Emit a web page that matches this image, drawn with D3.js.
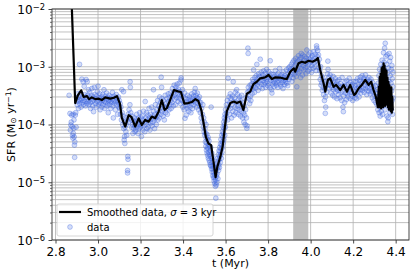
<!DOCTYPE html>
<html>
<head>
<meta charset="utf-8">
<script src="https://cdn.jsdelivr.net/npm/d3@7"></script>
<style>
  body { margin: 0; background: #fff; }
  text { font-family: "DejaVu Sans", sans-serif; }
</style>
</head>
<body>
<svg id="chart" width="415" height="273"></svg>
<script>
// ---- values ----
const xTicks = [2.8, 3.0, 3.2, 3.4, 3.6, 3.8, 4.0, 4.2, 4.4];
const yTicks = [1e-6, 1e-5, 1e-4, 1e-3, 1e-2];
const band = [3.918, 3.989];
const xLabel = "t (Myr)";
const legendLine = "Smoothed data, ";
const legendData = "data";

// smoothed SFR curve [t, SFR]
const smoothed = [
  [2.8755,1.5e-2],[2.8770,1.0e-2],[2.8926,2.35e-4],[2.905,3.2e-4],[2.921,3.9e-4],[2.932,3.0e-4],[2.948,3.1e-4],
  [2.958,2.75e-4],[2.971,2.95e-4],[2.987,2.75e-4],[3.003,2.8e-4],[3.018,2.65e-4],[3.034,2.95e-4],[3.057,2.8e-4],
  [3.075,2.9e-4],[3.089,3.1e-4],[3.103,2.3e-4],[3.112,1.3e-4],[3.128,9.2e-5],[3.144,1.45e-4],[3.157,1.35e-4],
  [3.175,9.2e-5],[3.191,1.28e-4],[3.206,9.8e-5],[3.222,1.2e-4],[3.238,1.12e-4],[3.253,1.37e-4],[3.269,1.28e-4],
  [3.285,1.67e-4],[3.300,2.65e-4],[3.313,1.78e-4],[3.324,1.93e-4],[3.339,2.65e-4],[3.357,3.95e-4],[3.376,3.75e-4],
  [3.390,3.65e-4],[3.406,2.3e-4],[3.423,2.35e-4],[3.441,2.45e-4],[3.458,2.75e-4],[3.472,2.55e-4],[3.486,1.78e-4],
  [3.498,9.8e-5],[3.507,6.1e-5],[3.519,4.7e-5],[3.532,4.4e-5],[3.544,2.15e-5],[3.553,1.23e-5],[3.561,1.84e-5],
  [3.575,2.75e-5],[3.586,4.1e-5],[3.595,8.0e-5],[3.606,1.7e-4],[3.622,2.35e-4],[3.639,2.5e-4],[3.653,2.35e-4],
  [3.669,2.5e-4],[3.684,1.78e-4],[3.700,3.4e-4],[3.716,3.7e-4],[3.731,5.0e-4],[3.747,5.5e-4],[3.763,6.3e-4],
  [3.786,6.55e-4],[3.802,7.2e-4],[3.818,6.15e-4],[3.833,6.55e-4],[3.855,6.5e-4],[3.874,6.25e-4],[3.888,6.15e-4],
  [3.904,8.2e-4],[3.921,9.4e-4],[3.927,8.2e-4],[3.943,1.15e-3],[3.959,1.22e-3],[3.974,1.17e-3],[3.990,1.27e-3],
  [4.009,1.22e-3],[4.025,1.31e-3],[4.034,1.42e-3],[4.045,8.8e-4],[4.061,5.2e-4],[4.069,3.7e-4],[4.081,5.9e-4],
  [4.092,6.3e-4],[4.108,4.5e-4],[4.120,4.85e-4],[4.139,3.95e-4],[4.155,4.85e-4],[4.171,3.7e-4],[4.186,4.85e-4],
  [4.204,3.25e-4],[4.210,3.35e-4],[4.226,4.25e-4],[4.241,4.85e-4],[4.257,5.9e-4],[4.273,4.85e-4],[4.285,5.5e-4],
  [4.296,3.95e-4],[4.307,3.0e-4],[4.316,2.0e-4],
  [4.3205,4.5e-4],[4.3228,2.0e-4],[4.3250,6.7e-4],[4.3273,2.6e-4],[4.3296,7.5e-4],[4.3318,1.9e-4],[4.3341,9.5e-4],
  [4.3364,2.3e-4],[4.3386,1.0e-3],[4.3409,2.0e-4],[4.3432,1.15e-3],[4.3455,2.4e-4],[4.3477,1.05e-3],[4.3500,2.1e-4],
  [4.3523,9.0e-4],[4.3545,2.5e-4],[4.3568,8.5e-4],[4.3591,2.2e-4],[4.3614,6.5e-4],[4.3636,2.0e-4],[4.3659,5.5e-4],
  [4.3682,1.8e-4],[4.3705,4.8e-4],[4.3727,2.0e-4],[4.3750,3.95e-4],[4.3773,1.7e-4],[4.3795,4.4e-4],[4.3818,1.6e-4],
  [4.3841,3.0e-4],[4.3864,1.75e-4]
];

// raw SFR samples [t, SFR]
const dataPoints = [
  [2.864,3.2e-4],[2.868,1.55e-4],[2.870,8.0e-5],[2.872,9.8e-5],[2.874,1.1e-4],[2.876,1.45e-4],[2.878,9.2e-5],
  [2.880,6.5e-5],[2.882,5.8e-5],[2.884,7.0e-5],[2.886,8.6e-5],[2.888,6.1e-5],[2.889,4.4e-5],[2.890,2.7e-5],
  [2.891,5.0e-5],[2.893,1.45e-4],[2.895,1.6e-4],[2.897,9.0e-5],[2.887,1.2e-4],[2.883,1.5e-4],
  [2.900,2.9e-4],[2.902,2.2e-4],[2.904,3.4e-4],[2.906,2.5e-4],[2.908,1.9e-4],[2.910,2.7e-4],[2.912,3.1e-4],
  [2.913,1.1e-3],[2.914,2.3e-4],[2.916,2.6e-4],[2.918,3.5e-4],[2.920,2.0e-4],[2.922,2.8e-4],[2.924,6.1e-4],
  [2.926,2.4e-4],[2.928,3.0e-4],[2.930,5.5e-4],[2.931,2.2e-4],[2.933,2.6e-4],[2.935,4.6e-4],[2.937,3.3e-4],
  [2.939,2.5e-4],[2.941,2.1e-4],[2.943,3.0e-4],[2.944,6.0e-4],[2.946,2.7e-4],[2.948,2.3e-4],[2.949,5.5e-4],
  [2.951,3.2e-4],[2.953,2.5e-4],[2.955,4.0e-4],
  [2.957,2.2e-4],[2.959,2.9e-4],[2.961,3.6e-4],[2.963,2.4e-4],[2.965,1.9e-4],[2.967,2.7e-4],[2.969,3.2e-4],
  [2.971,4.2e-4],[2.973,2.5e-4],[2.975,2.1e-4],[2.977,3.0e-4],[2.979,1.67e-4],[2.981,2.6e-4],[2.983,4.4e-4],
  [2.985,3.3e-4],[2.987,2.3e-4],[2.989,2.8e-4],[2.991,2.0e-4],[2.993,3.1e-4],[2.995,2.5e-4],[2.997,3.7e-4],
  [3.000,4.6e-4],[3.002,2.2e-4],[3.004,2.9e-4],[3.006,2.4e-4],[3.008,3.4e-4],[3.010,1.8e-4],[3.012,2.7e-4],
  [3.014,2.3e-4],[3.016,3.0e-4],[3.018,2.0e-4],[3.020,2.6e-4],[3.022,3.3e-4],[3.024,2.2e-4],[3.026,2.8e-4],
  [3.028,4.0e-4],[3.030,2.5e-4],[3.032,1.9e-4],[3.034,3.1e-4],[3.036,2.4e-4],[3.038,2.7e-4],[3.040,3.5e-4],
  [3.042,2.1e-4],[3.044,2.9e-4],[3.046,2.3e-4],[3.048,1.6e-4],[3.050,2.6e-4],[3.052,3.2e-4],[3.054,2.2e-4],
  [3.056,2.8e-4],[3.058,2.5e-4],[3.060,1.9e-4],[3.062,3.0e-4],[3.064,2.4e-4],[3.066,2.7e-4],[3.068,3.6e-4],
  [3.070,2.1e-4],[3.072,1.3e-4],[3.074,2.6e-4],[3.076,3.1e-4],[3.078,2.3e-4],[3.080,2.9e-4],[3.082,1.8e-4],
  [3.084,2.5e-4],[3.086,3.3e-4],[3.088,2.2e-4],[3.090,2.8e-4],[3.092,1.5e-4],[3.094,2.4e-4],[3.096,3.0e-4],
  [3.098,2.0e-4],[3.100,2.6e-4],
  [3.102,1.9e-4],[3.104,2.3e-4],[3.106,1.5e-4],[3.108,2.0e-4],[3.110,1.2e-4],[3.112,4.0e-4],[3.114,1.6e-4],
  [3.116,1.0e-4],[3.118,1.4e-4],[3.120,3.7e-4],[3.121,8.5e-5],[3.123,5.4e-5],[3.124,1.1e-4],[3.125,6.2e-5],
  [3.126,4.7e-5],[3.127,9.0e-5],[3.129,1.3e-4],[3.131,7.5e-5],[3.133,1.0e-4],[3.135,6.5e-5],[3.137,1.2e-4],
  [3.139,1.6e-5],[3.139,1.45e-5],[3.140,2.8e-5],[3.141,2.5e-5],[3.142,1.5e-4],[3.144,1.1e-4],[3.146,1.8e-4],
  [3.148,1.3e-4],[3.150,2.2e-4],[3.151,5.5e-4],[3.152,4.4e-4],[3.154,1.6e-4],[3.156,1.2e-4],[3.158,9.0e-5],
  [3.160,1.4e-4],[3.162,1.0e-4],[3.164,7.0e-5],[3.166,1.15e-4],[3.168,8.5e-5],[3.170,1.3e-4],[3.172,9.5e-5],
  [3.174,7.5e-5],[3.176,1.1e-4],[3.178,8.0e-5],[3.180,1.2e-4],[3.182,1.5e-4],[3.184,9.0e-5],[3.186,1.05e-4],
  [3.188,7.0e-5],[3.190,1.3e-4],[3.192,1.0e-4],[3.194,8.5e-5],[3.196,1.6e-4],[3.198,1.1e-4],[3.200,9.0e-5],
  [3.202,1.3e-4],[3.204,6.2e-5],[3.206,1.0e-4],[3.208,1.4e-4],[3.210,8.0e-5],[3.212,1.2e-4],[3.214,1.7e-4],
  [3.216,9.5e-5],[3.218,1.1e-4],[3.220,7.5e-5],[3.222,2.5e-4],[3.224,1.3e-4],[3.226,1.0e-4],[3.228,1.6e-4],
  [3.230,8.5e-5],[3.232,1.2e-4],[3.234,1.45e-4],[3.236,9.0e-5],[3.238,1.1e-4],[3.240,1.9e-4],[3.242,1.3e-4],
  [3.244,8.0e-5],[3.246,1.5e-4],[3.248,1.05e-4],[3.250,1.25e-4],[3.252,2.0e-4],[3.254,9.5e-5],[3.256,1.4e-4],
  [3.258,1.1e-4],[3.261,4.0e-4],[3.262,1.7e-4],[3.264,1.2e-4],[3.266,8.5e-5],[3.268,1.5e-4],[3.270,2.2e-4],
  [3.272,1.3e-4],[3.274,1.0e-4],[3.276,1.8e-4],[3.278,1.4e-4],[3.280,2.6e-4],[3.282,1.2e-4],[3.284,1.6e-4],
  [3.286,2.1e-4],[3.288,1.3e-4],[3.290,3.0e-4],[3.292,1.9e-4],[3.294,2.4e-4],[3.296,1.5e-4],[3.297,6.6e-4],
  [3.299,4.4e-4],[3.300,2.8e-4],[3.302,1.7e-4],[3.304,2.2e-4],[3.306,1.4e-4],[3.308,2.6e-4],[3.310,1.8e-4],
  [3.312,1.2e-4],[3.314,2.0e-4],[3.316,3.2e-4],[3.318,1.6e-4],[3.320,2.3e-4],[3.322,1.9e-4],[3.324,2.8e-4],
  [3.326,1.5e-4],[3.328,2.1e-4],[3.330,3.4e-4],[3.332,2.5e-4],[3.334,1.8e-4],[3.336,2.9e-4],[3.338,2.2e-4],
  [3.340,3.5e-4],[3.342,2.6e-4],[3.344,1.9e-4],[3.346,3.1e-4],
  [3.348,2.4e-4],[3.350,4.2e-4],[3.352,3.0e-4],[3.354,2.1e-4],[3.356,3.6e-4],[3.358,4.8e-4],[3.360,2.7e-4],
  [3.362,3.3e-4],[3.364,2.2e-4],[3.366,4.4e-4],[3.368,3.9e-4],[3.370,2.9e-4],[3.372,5.0e-4],[3.374,3.4e-4],
  [3.376,2.5e-4],[3.378,4.1e-4],[3.380,3.1e-4],[3.382,5.2e-4],[3.384,2.8e-4],[3.386,3.7e-4],[3.388,2.3e-4],
  [3.390,5.9e-4],[3.391,6.4e-4],[3.393,3.2e-4],[3.395,2.6e-4],[3.397,4.0e-4],[3.399,2.0e-4],[3.401,3.0e-4],
  [3.403,2.4e-4],[3.405,1.8e-4],[3.407,3.5e-4],[3.409,1.28e-4],[3.411,2.2e-4],[3.413,2.8e-4],[3.415,1.45e-4],
  [3.417,2.5e-4],[3.419,1.9e-4],[3.421,3.2e-4],[3.423,2.1e-4],[3.425,2.7e-4],[3.427,1.7e-4],[3.429,2.4e-4],
  [3.431,3.0e-4],[3.433,2.0e-4],[3.435,2.6e-4],[3.437,1.6e-4],[3.439,2.3e-4],[3.441,3.4e-4],[3.443,2.8e-4],
  [3.445,1.9e-4],[3.447,2.5e-4],[3.449,3.1e-4],[3.451,2.2e-4],[3.453,3.6e-4],[3.455,2.7e-4],[3.457,4.2e-4],
  [3.459,2.4e-4],[3.461,3.2e-4],[3.463,2.0e-4],[3.465,2.9e-4],[3.467,3.5e-4],[3.469,2.3e-4],[3.471,2.8e-4],
  [3.473,1.8e-4],[3.475,2.5e-4],[3.477,3.0e-4],[3.479,2.1e-4],[3.481,1.6e-4],[3.483,2.4e-4],[3.485,1.3e-4],
  [3.487,1.9e-4],[3.489,1.1e-4],[3.491,1.5e-4],[3.493,2.2e-4],[3.495,9.0e-5],[3.497,1.3e-4],[3.499,7.5e-5],
  [3.500,1.1e-4],[3.502,6.5e-5],[3.503,8.5e-5],[3.505,5.0e-5],[3.506,7.0e-5],[3.507,4.2e-5],[3.508,1.0e-4],
  [3.509,5.8e-5],[3.510,3.6e-5],[3.511,4.8e-5],[3.512,6.8e-5],[3.513,3.2e-5],[3.514,4.0e-5],[3.515,5.5e-5],
  [3.516,2.9e-5],[3.517,3.8e-5],[3.518,6.0e-5],[3.519,2.6e-5],[3.520,4.5e-5],[3.521,3.3e-5],[3.522,5.2e-5],
  [3.523,2.4e-5],[3.524,3.0e-5],[3.525,4.2e-5],[3.526,2.2e-5],[3.527,3.5e-5],[3.528,2.0e-5],[3.529,2.8e-5],
  [3.530,4.0e-5],[3.531,1.9e-5],[3.532,2.0e-4],[3.533,2.6e-5],[3.534,1.7e-5],[3.535,3.2e-5],[3.536,2.2e-5],
  [3.537,1.5e-5],[3.538,1.9e-5],[3.539,2.7e-5],[3.540,1.3e-5],[3.541,1.7e-5],[3.542,2.3e-5],[3.543,1.2e-5],
  [3.544,1.5e-5],[3.545,2.0e-5],[3.546,1.05e-5],[3.547,1.35e-5],[3.548,1.8e-5],[3.549,9.5e-6],[3.550,1.2e-5],
  [3.551,1.6e-5],[3.552,8.5e-6],[3.553,1.1e-5],[3.554,5.3e-6],[3.555,1.4e-5],[3.556,9.0e-6],[3.557,1.25e-5],
  [3.558,1.7e-5],[3.559,1.0e-5],[3.560,2.1e-5],[3.561,1.4e-5],[3.562,2.6e-5],[3.563,1.8e-5],[3.564,1.15e-5],
  [3.565,2.3e-5],[3.566,3.0e-5],[3.567,1.6e-5],[3.568,2.0e-5],[3.569,3.5e-5],[3.570,2.5e-5],[3.571,1.8e-5],
  [3.572,4.0e-5],[3.573,2.8e-5],[3.574,3.4e-5],[3.575,2.2e-5],[3.576,4.6e-5],[3.577,3.0e-5],[3.578,5.5e-5],
  [3.579,3.8e-5],[3.580,2.6e-5],[3.581,4.4e-5],[3.582,6.5e-5],[3.583,3.3e-5],[3.584,5.0e-5],[3.585,7.5e-5],
  [3.586,4.0e-5],[3.587,6.0e-5],[3.588,9.0e-5],[3.589,4.8e-5],[3.590,7.0e-5],[3.591,1.1e-4],[3.592,5.5e-5],
  [3.593,8.5e-5],[3.594,1.3e-4],[3.595,1.0e-4],[3.596,6.5e-5],[3.597,1.5e-4],[3.598,1.2e-4],[3.599,9.0e-5],
  [3.600,1.8e-4],[3.602,1.4e-4],[3.604,2.2e-4],[3.606,1.6e-4],[3.608,2.6e-4],[3.610,1.2e-4],[3.612,6.3e-4],
  [3.614,2.0e-4],[3.616,3.0e-4],[3.618,1.5e-4],[3.620,2.4e-4],[3.622,3.4e-4],[3.624,1.9e-4],[3.626,2.8e-4],
  [3.628,1.3e-4],[3.630,2.2e-4],[3.632,3.1e-4],[3.634,1.7e-4],[3.636,5.5e-4],[3.638,2.5e-4],[3.640,1.45e-4],
  [3.642,2.9e-4],[3.644,2.0e-4],[3.646,3.6e-4],[3.648,1.6e-4],[3.650,2.4e-4],[3.652,4.0e-4],[3.654,1.9e-4],
  [3.656,3.3e-4],[3.658,2.1e-4],[3.660,1.5e-4],[3.662,2.7e-4],[3.664,1.8e-4],[3.666,3.0e-4],[3.668,2.3e-4],
  [3.670,1.4e-4],[3.672,2.6e-4],[3.674,1.7e-4],[3.676,3.2e-4],[3.678,2.0e-4],[3.680,1.3e-4],[3.682,2.4e-4],
  [3.684,1.6e-4],[3.686,1.1e-4],[3.688,2.1e-4],[3.690,1.45e-4],[3.692,1.0e-4],[3.694,1.8e-4],[3.696,2.9e-4],
  [3.698,1.3e-4],[3.700,8.6e-5],[3.701,9.5e-5],[3.703,3.6e-4],[3.705,2.1e-3],[3.706,1.7e-3],[3.707,4.4e-4],
  [3.709,2.8e-4],[3.711,3.8e-4],[3.713,2.3e-4],[3.715,4.8e-4],[3.717,3.1e-4],[3.719,2.6e-4],[3.721,4.2e-4],
  [3.723,5.0e-4],[3.725,3.4e-4],[3.727,6.0e-4],[3.729,4.1e-4],[3.731,5.5e-4],[3.732,8.8e-4],[3.734,4.6e-4],
  [3.736,3.6e-4],[3.738,6.5e-4],[3.740,5.2e-4],[3.742,4.3e-4],[3.744,7.0e-4],[3.746,5.6e-4],[3.747,1.1e-3],
  [3.749,4.8e-4],[3.751,6.2e-4],[3.753,3.9e-4],[3.755,7.6e-4],[3.757,5.4e-4],[3.759,6.8e-4],[3.761,4.5e-4],
  [3.763,1.35e-3],[3.765,5.9e-4],[3.767,8.0e-4],[3.769,5.0e-4],[3.771,6.6e-4],[3.773,4.2e-4],[3.775,7.2e-4],
  [3.777,5.7e-4],[3.779,8.5e-4],[3.781,4.9e-4],[3.783,6.3e-4],[3.785,5.3e-4],[3.787,7.8e-4],[3.789,4.4e-4],
  [3.791,6.0e-4],[3.793,9.0e-4],[3.795,5.5e-4],[3.797,7.0e-4],[3.799,4.7e-4],[3.801,6.4e-4],[3.803,8.2e-4],
  [3.805,5.1e-4],[3.807,6.9e-4],[3.809,4.3e-4],[3.810,1.27e-3],[3.812,5.8e-4],[3.814,7.5e-4],[3.816,4.0e-4],
  [3.818,3.5e-4],[3.820,6.2e-4],[3.822,5.0e-4],[3.824,7.3e-4],[3.826,5.6e-4],[3.828,4.5e-4],[3.830,6.8e-4],
  [3.832,5.2e-4],[3.834,8.6e-4],[3.836,6.0e-4],[3.838,4.8e-4],[3.840,7.1e-4],[3.842,5.4e-4],[3.844,6.5e-4],
  [3.846,4.4e-4],[3.848,7.7e-4],[3.850,5.7e-4],[3.852,6.3e-4],[3.854,9.3e-4],[3.856,5.0e-4],[3.858,6.9e-4],
  [3.860,4.6e-4],[3.862,5.9e-4],[3.864,7.4e-4],[3.866,5.3e-4],[3.868,6.6e-4],[3.870,4.2e-4],[3.872,8.1e-4],
  [3.874,5.8e-4],[3.876,6.4e-4],[3.878,4.9e-4],[3.880,7.0e-4],[3.882,5.5e-4],[3.884,6.1e-4],[3.886,8.8e-4],
  [3.888,5.2e-4],[3.890,6.7e-4],[3.892,4.7e-4],[3.894,7.5e-4],[3.896,9.5e-4],[3.898,6.0e-4],[3.900,8.3e-4],
  [3.902,1.0e-3],[3.904,6.8e-4],[3.906,9.0e-4],[3.908,7.3e-4],[3.910,1.1e-3],[3.912,5.6e-4],[3.914,8.0e-4],
  [3.916,1.2e-3],[3.918,6.4e-4],
  [3.920,9.5e-4],[3.922,1.3e-3],[3.924,7.5e-4],[3.926,1.05e-3],[3.928,8.5e-4],[3.930,1.4e-3],[3.932,6.8e-4],
  [3.934,1.15e-3],[3.935,4.5e-4],[3.937,9.0e-4],[3.939,1.25e-3],[3.941,7.8e-4],[3.943,1.55e-3],[3.945,1.0e-3],
  [3.947,8.2e-4],[3.949,1.35e-3],[3.951,1.1e-3],[3.953,6.5e-4],[3.955,1.45e-3],[3.956,1.7e-3],[3.958,9.3e-4],
  [3.960,1.2e-3],[3.962,7.2e-4],[3.964,1.6e-3],[3.966,1.05e-3],[3.968,8.8e-4],[3.970,1.3e-3],[3.972,1.5e-3],
  [3.974,9.6e-4],[3.976,1.15e-3],[3.978,7.6e-4],[3.980,1.4e-3],[3.982,1.95e-3],[3.984,1.0e-3],[3.986,1.25e-3],
  [3.988,8.4e-4],[3.990,1.6e-3],[3.992,1.1e-3],[3.994,1.35e-3],[3.996,9.0e-4],[3.998,1.75e-3],[4.000,1.2e-3],
  [4.002,1.45e-3],[4.004,8.0e-4],[4.006,1.05e-3],[4.008,1.55e-3],[4.010,1.3e-3],[4.012,9.4e-4],[4.014,1.8e-3],
  [4.016,1.15e-3],[4.018,1.4e-3],[4.020,1.0e-3],[4.022,1.65e-3],[4.024,1.25e-3],[4.026,8.6e-4],[4.028,2.3e-3],
  [4.029,2.1e-3],[4.031,1.5e-3],[4.033,1.9e-3],[4.035,1.2e-3],[4.037,1.6e-3],[4.039,9.8e-4],[4.041,1.35e-3],
  [4.043,8.5e-4],[4.045,6.0e-4],[4.047,1.0e-3],[4.049,4.8e-4],[4.051,7.0e-4],[4.053,5.3e-4],[4.055,3.9e-4],
  [4.057,6.4e-4],[4.059,4.4e-4],[4.061,3.3e-4],[4.063,5.6e-4],[4.065,2.6e-4],[4.067,4.1e-4],[4.069,1.56e-4],
  [4.070,3.0e-4],[4.071,2.0e-4],[4.073,4.6e-4],[4.075,3.6e-4],[4.077,5.8e-4],[4.079,7.5e-4],[4.081,1.25e-3],
  [4.082,9.0e-4],[4.084,5.0e-4],[4.086,6.6e-4],[4.088,4.2e-4],[4.090,5.5e-4],[4.092,7.2e-4],[4.094,4.7e-4],
  [4.096,3.5e-4],[4.098,6.1e-4],[4.100,4.4e-4],[4.102,5.2e-4],[4.104,3.2e-4],[4.106,6.8e-4],[4.108,4.0e-4],
  [4.110,5.4e-4],[4.112,3.0e-4],[4.114,4.6e-4],[4.116,6.2e-4],[4.118,3.7e-4],[4.120,5.0e-4],[4.122,4.1e-4],
  [4.124,2.8e-4],[4.126,5.7e-4],[4.128,3.9e-4],[4.130,4.8e-4],[4.132,3.3e-4],[4.134,6.0e-4],[4.136,4.3e-4],
  [4.138,2.9e-4],[4.140,5.1e-4],[4.142,3.6e-4],[4.144,4.5e-4],[4.146,2.6e-4],[4.148,6.5e-4],[4.150,3.8e-4],
  [4.152,2.0e-4],[4.154,1.67e-4],[4.156,3.1e-4],[4.158,4.7e-4],[4.160,2.4e-4],[4.162,5.4e-4],[4.164,3.5e-4],
  [4.166,4.2e-4],[4.168,2.7e-4],[4.170,5.8e-4],[4.172,3.4e-4],[4.174,4.4e-4],[4.176,3.0e-4],[4.178,5.0e-4],
  [4.180,3.7e-4],[4.182,6.3e-4],[4.184,4.0e-4],[4.186,2.8e-4],[4.188,5.3e-4],[4.190,3.6e-4],[4.192,4.6e-4],
  [4.194,3.1e-4],[4.196,4.9e-4],[4.198,2.6e-4],[4.200,3.9e-4],[4.202,5.5e-4],[4.204,3.3e-4],[4.206,4.3e-4],
  [4.208,2.9e-4],
  [4.210,4.7e-4],[4.212,3.4e-4],[4.214,5.6e-4],[4.216,2.8e-4],[4.218,4.2e-4],[4.220,6.2e-4],[4.222,3.7e-4],
  [4.224,5.0e-4],[4.226,4.4e-4],[4.228,3.0e-4],[4.230,5.8e-4],[4.232,4.0e-4],[4.234,6.6e-4],[4.236,3.5e-4],
  [4.238,5.2e-4],[4.240,4.6e-4],[4.242,7.0e-4],[4.244,3.9e-4],[4.246,5.5e-4],[4.248,4.3e-4],[4.250,6.3e-4],
  [4.252,3.6e-4],[4.254,5.9e-4],[4.256,4.8e-4],[4.258,7.2e-4],[4.260,4.1e-4],[4.262,5.4e-4],[4.264,3.3e-4],
  [4.266,6.0e-4],[4.268,4.5e-4],[4.270,5.1e-4],[4.272,3.8e-4],[4.274,6.5e-4],[4.276,4.2e-4],[4.278,5.6e-4],
  [4.280,3.4e-4],[4.282,4.9e-4],[4.284,6.1e-4],[4.286,3.7e-4],[4.288,4.5e-4],[4.290,2.9e-4],[4.292,5.3e-4],
  [4.294,3.6e-4],[4.296,4.4e-4],[4.298,2.6e-4],[4.300,3.9e-4],[4.302,3.1e-4],[4.304,4.7e-4],[4.306,2.4e-4],
  [4.308,3.5e-4],
  [4.310,3.0e-4],[4.312,2.2e-4],[4.314,4.0e-4],[4.316,1.8e-4],[4.318,5.2e-4],[4.320,2.6e-4],[4.321,7.0e-4],
  [4.322,1.6e-4],[4.323,3.5e-4],[4.324,9.0e-4],[4.325,2.0e-4],[4.326,4.6e-4],[4.327,1.4e-4],[4.328,6.0e-4],
  [4.329,2.9e-4],[4.330,1.1e-3],[4.331,3.8e-4],[4.332,1.7e-4],[4.333,8.0e-4],[4.334,2.4e-4],[4.335,5.5e-4],
  [4.336,1.3e-3],[4.337,3.2e-4],[4.338,1.5e-4],[4.339,7.2e-4],[4.340,4.2e-4],[4.341,1.0e-3],[4.342,2.1e-4],
  [4.343,1.75e-3],[4.344,5.0e-4],[4.345,2.7e-4],[4.346,1.2e-3],[4.347,3.6e-4],[4.348,2.1e-3],[4.349,6.5e-4],
  [4.350,1.8e-4],[4.351,2.55e-3],[4.352,8.5e-4],[4.353,4.4e-4],[4.354,1.5e-3],[4.355,2.3e-4],[4.356,6.0e-4],
  [4.357,1.1e-3],[4.358,3.0e-4],[4.359,1.4e-4],[4.360,1.6e-3],[4.361,4.8e-4],[4.362,7.8e-4],[4.363,1.12e-4],
  [4.364,2.5e-4],[4.365,1.3e-4],[4.366,9.5e-4],[4.367,3.4e-4],[4.368,5.6e-4],[4.369,1.7e-3],[4.370,2.0e-4],
  [4.371,4.0e-4],[4.372,1.25e-3],[4.373,1.6e-4],[4.374,7.0e-4],[4.375,3.1e-4],[4.376,1.45e-3],[4.377,2.3e-4],
  [4.378,5.2e-4],[4.379,9.0e-4],[4.380,1.8e-4],[4.381,3.8e-4],[4.382,1.05e-3],[4.383,2.6e-4],[4.384,6.2e-4],
  [4.385,1.5e-4],[4.386,4.5e-4],[4.387,8.0e-4],[4.388,2.9e-4]
];

// ---- layout ----
const W = 415, H = 273;
const plot = { left: 52, right: 409, top: 9, bottom: 240 };

const svg = d3.select("#chart");

const x = d3.scaleLinear().domain([2.7835, 4.4627]).range([plot.left, plot.right]);
const y = d3.scaleLog().domain([1e-6, 1e-2]).range([plot.bottom, plot.top]);

// minor decade ticks 2..9
const minorTicks = [];
for (let e = -6; e < -2; e++) {
    for (let m = 2; m <= 9; m++) minorTicks.push(m * Math.pow(10, e));
}

svg.append("defs").append("clipPath").attr("id", "clip")
    .append("rect")
    .attr("x", plot.left).attr("y", plot.top)
    .attr("width", plot.right - plot.left).attr("height", plot.bottom - plot.top);

// shaded span (below grid, like matplotlib)
svg.append("rect")
    .attr("x", x(band[0])).attr("y", plot.top)
    .attr("width", x(band[1]) - x(band[0])).attr("height", plot.bottom - plot.top)
    .attr("fill", "#808080").attr("fill-opacity", 0.5);

// grid
const grid = svg.append("g").attr("class", "grid")
    .attr("stroke", "#b0b0b0").attr("stroke-width", 0.8);
grid.selectAll("line.h")
    .data(yTicks.concat(minorTicks))
    .join("line")
    .attr("x1", plot.left).attr("x2", plot.right)
    .attr("y1", d => y(d)).attr("y2", d => y(d));
grid.selectAll("line.v")
    .data(xTicks)
    .join("line")
    .attr("x1", d => x(d)).attr("x2", d => x(d))
    .attr("y1", plot.top).attr("y2", plot.bottom);

const plotArea = svg.append("g").attr("clip-path", "url(#clip)");

// scatter
plotArea.append("g")
    .selectAll("circle")
    .data(dataPoints)
    .join("circle")
    .attr("cx", d => x(d[0]))
    .attr("cy", d => y(d[1]))
    .attr("r", 2.4)
    .attr("fill", "#4169e1").attr("fill-opacity", 0.22)
    .attr("stroke", "#4169e1").attr("stroke-opacity", 0.45)
    .attr("stroke-width", 0.8);

// smoothed line on top
const line = d3.line().x(d => x(d[0])).y(d => y(d[1]));
plotArea.append("path")
    .datum(smoothed)
    .attr("d", line)
    .attr("fill", "none")
    .attr("stroke", "#000")
    .attr("stroke-width", 2.2)
    .attr("stroke-linejoin", "round");

// frame
svg.append("rect")
    .attr("x", plot.left).attr("y", plot.top)
    .attr("width", plot.right - plot.left).attr("height", plot.bottom - plot.top)
    .attr("fill", "none").attr("stroke", "#333").attr("stroke-width", 0.9);

// axes
const xAxis = svg.append("g")
    .attr("transform", `translate(0,${plot.bottom})`)
    .call(d3.axisBottom(x).tickValues(xTicks).tickFormat(d3.format(".1f")).tickSize(3.5).tickPadding(3.5));
xAxis.select(".domain").remove();
xAxis.selectAll("line").attr("stroke", "#333").attr("stroke-width", 0.9);
xAxis.selectAll("text").attr("font-size", 12).attr("fill", "#000")
    .attr("font-family", "DejaVu Sans");

const yMinor = svg.append("g")
    .attr("transform", `translate(${plot.left},0)`)
    .call(d3.axisLeft(y).tickValues(minorTicks).tickFormat("").tickSize(2));
yMinor.select(".domain").remove();
yMinor.selectAll("line").attr("stroke", "#333").attr("stroke-width", 0.7);

const yAxis = svg.append("g")
    .attr("transform", `translate(${plot.left},0)`)
    .call(d3.axisLeft(y).tickValues(yTicks).tickFormat("").tickSize(3.5).tickPadding(3.5));
yAxis.select(".domain").remove();
yAxis.selectAll("line").attr("stroke", "#333").attr("stroke-width", 0.9);
yAxis.selectAll("text").each(function (d) {
    const t = d3.select(this).attr("fill", "#000").attr("font-size", 12)
        .attr("font-family", "DejaVu Sans").attr("dy", "0.36em");
    t.text(null);
    t.append("tspan").text("10");
    t.append("tspan").attr("dy", "-0.45em").attr("font-size", "0.7em")
        .text("\u2212" + Math.abs(Math.round(Math.log10(d))));
});

// axis labels
svg.append("text")
    .attr("x", (plot.left + plot.right) / 2).attr("y", 267)
    .attr("text-anchor", "middle").attr("font-size", 11)
    .text(xLabel);

const yl = svg.append("text")
    .attr("transform", `translate(14.5,${(plot.top + plot.bottom) / 2}) rotate(-90)`)
    .attr("text-anchor", "middle").attr("font-size", 11);
yl.append("tspan").text("SFR (M");
yl.append("tspan").attr("dy", "0.2em").attr("font-size", "0.7em").text("\u2299");
yl.append("tspan").attr("dy", "-0.2em").text(" yr");
yl.append("tspan").attr("dy", "-0.4em").attr("font-size", "0.7em").text("\u22121");
yl.append("tspan").attr("dy", "0.4em").text(")");

// legend
const lg = svg.append("g");
lg.append("rect")
    .attr("x", 57).attr("y", 204).attr("width", 156).attr("height", 32).attr("rx", 2)
    .attr("fill", "#fff").attr("fill-opacity", 0.8)
    .attr("stroke", "#cccccc").attr("stroke-width", 0.8);
lg.append("line")
    .attr("x1", 59).attr("x2", 81).attr("y1", 212).attr("y2", 212)
    .attr("stroke", "#000").attr("stroke-width", 2.2);
const lt = lg.append("text").attr("x", 87).attr("y", 215.5).attr("font-size", 10);
lt.append("tspan").text(legendLine);
lt.append("tspan").attr("font-style", "italic").text("\u03c3");
lt.append("tspan").text(" = 3 kyr");
lg.append("circle")
    .attr("cx", 70).attr("cy", 227).attr("r", 2.4)
    .attr("fill", "#4169e1").attr("fill-opacity", 0.22)
    .attr("stroke", "#4169e1").attr("stroke-opacity", 0.45).attr("stroke-width", 0.8);
lg.append("text").attr("x", 87).attr("y", 230.5).attr("font-size", 10).text(legendData);
</script>
</body>
</html>
